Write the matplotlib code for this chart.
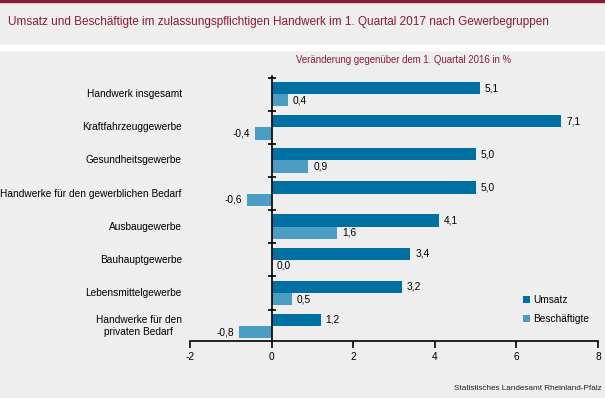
import numpy as np
import matplotlib
matplotlib.use("Agg")
import matplotlib.pyplot as plt
from matplotlib.patches import Rectangle

plt.rcParams['font.family'] = ['Liberation Sans', 'DejaVu Sans']

# data
categories = ["Handwerk insgesamt", "Kraftfahrzeuggewerbe", "Gesundheitsgewerbe",
              "Handwerke für den gewerblichen Bedarf", "Ausbaugewerbe",
              "Bauhauptgewerbe", "Lebensmittelgewerbe",
              "Handwerke für den\nprivaten Bedarf"]
umsatz = [5.1, 7.1, 5.0, 5.0, 4.1, 3.4, 3.2, 1.2]
beschaeftigte = [0.4, -0.4, 0.9, -0.6, 1.6, 0.0, 0.5, -0.8]
series_names = ["Umsatz", "Beschäftigte"]
xticks = [-2, 0, 2, 4, 6, 8]

c_dark = "#0070a2"
c_light = "#4b9dc3"
c_red = "#8a1b34"
bg = "#edeeed"

fig = plt.figure(figsize=(6.05, 3.98), dpi=100, facecolor=bg)

# top border and white separator line
fig.add_artist(Rectangle((0, 1 - 2/398), 1, 2/398, transform=fig.transFigure, color=c_red))
fig.add_artist(Rectangle((0, 1 - 50/398), 1, 5/398, transform=fig.transFigure, color="white"))
fig.text(8/605, 1 - 22/398, "Umsatz und Beschäftigte im zulassungspflichtigen Handwerk im 1. Quartal 2017 nach Gewerbegruppen",
         fontsize=8.5, color=c_red, va="center", ha="left")
fig.text(404/605, 1 - 60/398, "Veränderung gegenüber dem 1. Quartal 2016 in %",
         fontsize=6.9, color=c_red, va="center", ha="center")
fig.text(602/605, 1 - 389/398, "Statistisches Landesamt Rheinland-Pfalz",
         fontsize=5.9, color="#222222", va="center", ha="right")

ax = fig.add_axes([190/605, 1 - 341/398, 408/605, 265/398])
ax.set_facecolor(bg)

y = np.arange(len(categories))
h = 0.37
ax.barh(y - h/2, umsatz, height=h, color=c_dark, label=series_names[0])
ax.barh(y + h/2, beschaeftigte, height=h, color=c_light, label=series_names[1])

for i in range(len(categories)):
    for val, off in [(umsatz[i], -h/2), (beschaeftigte[i], h/2)]:
        txt = ("%.1f" % val).replace(".", ",")
        if val < 0:
            ax.text(val - 0.12, y[i] + off, txt, ha="right", va="center", fontsize=7.3)
        else:
            ax.text(val + 0.12, y[i] + off, txt, ha="left", va="center", fontsize=7.3)
    ax.text(-0.02, y[i], categories[i], transform=ax.get_yaxis_transform(),
            ha="right", va="center", fontsize=7.3, multialignment="center")

ax.set_xlim(-2, 8)
ax.set_ylim(7.45, -0.55)
ax.set_xticks(xticks)
ax.set_xticklabels([str(t) for t in xticks], fontsize=7.3)
ax.set_yticks(np.arange(-0.5, 7, 1))
ax.set_yticklabels([])
ax.spines['left'].set_position(('data', 0))
ax.spines['top'].set_visible(False)
ax.spines['right'].set_visible(False)
ax.spines['left'].set_linewidth(1.2)
ax.spines['bottom'].set_linewidth(1.2)
ax.tick_params(axis='y', direction='inout', length=6, width=1.2)
ax.tick_params(axis='x', direction='out', length=5, width=1.2, pad=3)

leg = ax.legend(loc="lower right", bbox_to_anchor=(1.0, 0.03), frameon=False, fontsize=7.3,
                handlelength=0.7, handleheight=0.7, handletextpad=0.3, labelspacing=0.9)

plt.savefig("out.png", dpi=100, facecolor=bg)
